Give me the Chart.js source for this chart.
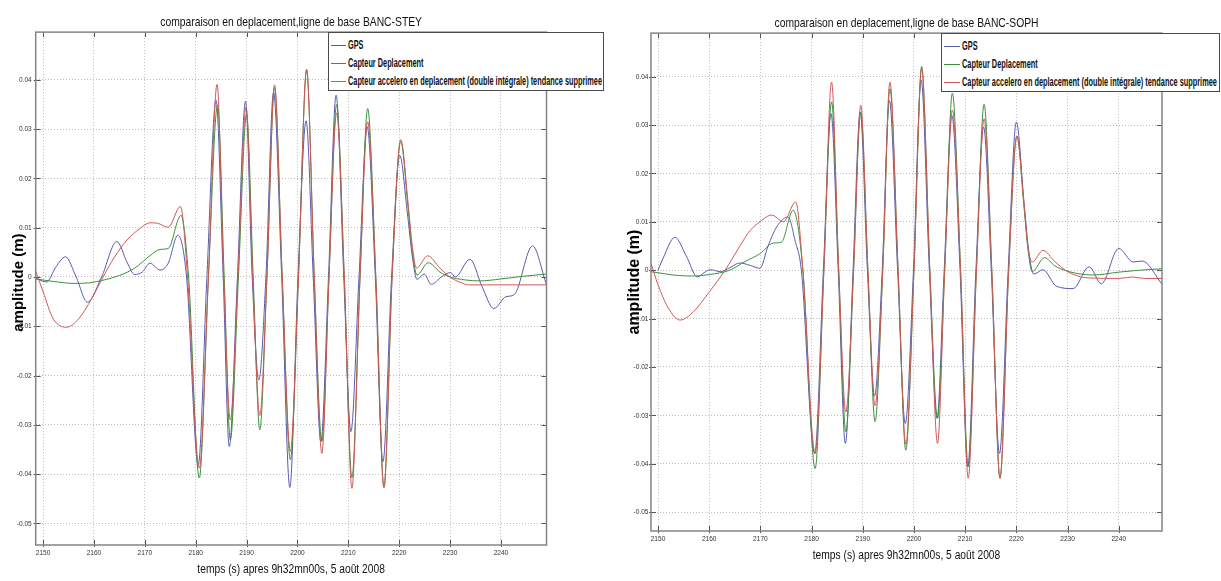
<!DOCTYPE html>
<html><head><meta charset="utf-8">
<script src="https://cdn.jsdelivr.net/npm/chart.js@4.4.0/dist/chart.umd.min.js"></script>
<style>
html,body{margin:0;padding:0;background:#fff;}
body{width:1221px;height:581px;position:relative;overflow:hidden;}
.pane{position:absolute;top:0;height:581px;}
.legend{position:absolute;background:#fff;border:1px solid #4a4a4a;box-sizing:border-box;font-family:'Liberation Sans',Arial,sans-serif;font-weight:bold;font-size:12.5px;color:#111;z-index:5;}
.row{position:absolute;left:0;right:0;height:18px;white-space:nowrap;}
.row .ln{position:absolute;top:9px;height:1px;}
.row .tx{position:absolute;top:0;line-height:18px;transform-origin:left center;display:inline-block;}
</style></head>
<body>
<div class="pane" style="left:0;width:610px"><canvas id="c1" width="610" height="581"></canvas></div>
<div class="pane" style="left:610px;width:611px"><canvas id="c2" width="611" height="581"></canvas></div>
<div class="legend" id="lg1" style="left:328px;top:32px;width:276px;height:59px"></div>
<div class="legend" id="lg2" style="left:941px;top:33px;width:279px;height:59px"></div>
<script>
// ---- labels / ticks ----
const seriesNames = ['GPS', 'Capteur Deplacement', 'Capteur accelero en deplacement (double intégrale) tendance supprimee'];
const seriesColors = ['#5a5aae', '#3c8f3c', '#d05858'];
const titleStey = 'comparaison en deplacement,ligne de base BANC-STEY';
const titleSoph = 'comparaison en deplacement,ligne de base BANC-SOPH';
const xTitle = 'temps (s) apres 9h32mn00s, 5 août 2008';
const yTitle = 'amplitude (m)';
const xTicks = [2150, 2160, 2170, 2180, 2190, 2200, 2210, 2220, 2230, 2240];
const yTicks = [-0.05, -0.04, -0.03, -0.02, -0.01, 0, 0.01, 0.02, 0.03, 0.04];

// ---- BANC-STEY ----
const steyGpsT = [2148.55,2150.7,2152.5,2154.4,2156.5,2158.7,2161.5,2164.5,2166.5,2168,2169.5,2171,2173,2174.6,2176.5,2178.2,2180.5,2182.2,2184.0,2185.4,2186.6,2188.2,2189.8,2191.1,2192.4,2193.8,2195.3,2196.9,2198.5,2200.1,2201.7,2203.1,2204.6,2206.1,2207.6,2209.1,2210.5,2212.1,2213.7,2215.3,2216.8,2218.5,2220.1,2221.6,2222.6,2223.5,2224.9,2226.3,2228.3,2230.1,2231,2233.9,2236.3,2238.6,2241.0,2242.6,2246.2,2248.95];
const steyGpsV = [-0.0003,-0.001,0.002,0.0041,0.0,-0.0051,0.0,0.0072,0.003,0.0005,0.001,0.0028,0.0014,0.0028,0.0085,0.0,-0.0381,0.0,0.0359,0.0,-0.0344,0.0,0.0357,0.0,-0.0209,0.0,0.0375,0.0,-0.0427,0.0,0.0317,0.0,-0.0334,0.0,0.0369,0.0,-0.0314,0.0,0.0305,0.0,-0.0375,0.0,0.0247,0.013,0.004,-0.0005,0.0006,-0.0015,0.0,0.0009,0.0,0.0036,-0.002,-0.0064,-0.004,-0.0036,0.0063,-0.0016];
const steyDepT = [2148.55,2152,2156,2159,2162,2165,2168,2171,2173,2174.6,2177.1,2178.6,2180.7,2182.5,2184.3,2185.6,2186.8,2188.4,2190.0,2191.3,2192.6,2194.0,2195.5,2197.0,2198.6,2200.2,2201.8,2203.3,2204.8,2206.2,2207.7,2209.2,2210.7,2212.3,2213.8,2215.4,2217.0,2218.6,2220.3,2221.7,2222.6,2223.5,2225.7,2228,2230,2233,2235.8,2240,2244,2248.95];
const steyDepV = [-0.0004,-0.0009,-0.0013,-0.0012,-0.0006,0.0003,0.0018,0.0043,0.0056,0.0058,0.0125,0.0,-0.0408,0.0,0.0349,0.0,-0.0331,0.0,0.033,0.0,-0.031,0.0,0.0385,0.0,-0.0371,0.0,0.0421,0.0,-0.0334,0.0,0.035,0.0,-0.0408,0.0,0.0342,0.0,-0.0427,0.0,0.0275,0.0145,0.005,0.0004,0.0029,0.001,0.0,-0.0006,-0.0008,-0.0004,0.0001,0.0006];
const steyAccT = [2148.55,2150,2152,2154.6,2157,2159.5,2161.8,2164,2166.5,2169,2171,2172.5,2174.6,2177,2178.4,2180.7,2182.5,2184.2,2185.5,2186.8,2188.3,2189.9,2191.2,2192.6,2194.0,2195.5,2197.0,2198.6,2200.2,2201.8,2203.3,2204.8,2206.2,2207.7,2209.2,2210.7,2212.3,2213.8,2215.4,2217.0,2218.6,2220.3,2221.7,2222.6,2223.4,2225.6,2228,2230.1,2232,2233.7,2240,2248.95];
const steyAccV = [0.0012,-0.003,-0.0085,-0.0102,-0.0085,-0.0045,0.0,0.004,0.0075,0.0098,0.011,0.0109,0.0101,0.0143,0.0,-0.0388,0.0,0.0391,0.0,-0.029,0.0,0.0345,0.0,-0.0281,0.0,0.039,0.0,-0.0354,0.0,0.0421,0.0,-0.0358,0.0,0.0333,0.0,-0.0429,0.0,0.0315,0.0,-0.0427,0.0,0.0279,0.0155,0.006,0.0018,0.0043,0.0018,-0.0001,-0.0011,-0.0016,-0.0016,-0.0016];

// ---- BANC-SOPH ----
const sophGpsT = [2150.0,2151,2153.3,2155.5,2157.7,2159,2160.2,2162.2,2164,2166,2168,2169.9,2171.5,2173.2,2175.4,2176.8,2178.0,2180.6,2182.3,2183.8,2185.2,2186.6,2188.1,2189.5,2190.9,2192.3,2193.8,2195.2,2196.8,2198.3,2199.9,2201.4,2203.0,2204.5,2205.9,2207.4,2209.0,2210.5,2212.1,2213.6,2215.1,2216.7,2218.4,2220.0,2221.5,2222.3,2223.4,2225.2,2227.8,2231.1,2234.2,2236.6,2240.0,2242.8,2244.6,2248.45];
const sophGpsV = [0.0,0.0025,0.0068,0.003,-0.0014,-0.0005,0.0001,-0.0003,0.0005,0.0015,0.001,0.0004,0.005,0.009,0.011,0.006,0.0,-0.0379,0.0,0.0324,0.0,-0.0358,0.0,0.0327,0.0,-0.026,0.0,0.0351,0.0,-0.0317,0.0,0.0393,0.0,-0.0306,0.0,0.032,0.0,-0.0406,0.0,0.0296,0.0,-0.0379,0.0,0.0306,0.014,0.005,-0.0008,0.0001,-0.0033,-0.0038,0.0007,-0.0028,0.0045,0.0017,0.0019,-0.0029];
const sophDepT = [2148.63,2151,2154,2157,2160,2164,2167,2169.9,2172.5,2174.1,2176.4,2178.3,2180.7,2182.4,2183.9,2185.3,2186.7,2188.2,2189.6,2191.0,2192.4,2193.9,2195.3,2196.9,2198.4,2200.0,2201.5,2203.1,2204.6,2206.0,2207.5,2209.1,2210.6,2212.2,2213.7,2215.2,2216.8,2218.5,2220.1,2221.5,2222.3,2223.1,2225.5,2227.5,2229.7,2232,2234.9,2240,2244,2248.45];
const sophDepV = [-0.0003,-0.0007,-0.0011,-0.0012,-0.0009,0.0,0.0018,0.0034,0.0056,0.0058,0.0124,0.0,-0.041,0.0,0.0348,0.0,-0.0334,0.0,0.0327,0.0,-0.0313,0.0,0.0375,0.0,-0.0372,0.0,0.0421,0.0,-0.0306,0.0,0.0366,0.0,-0.0406,0.0,0.0343,0.0,-0.043,0.0,0.0277,0.013,0.004,-0.0003,0.0026,0.0009,-0.0001,-0.0007,-0.001,-0.0004,0.0,0.0003];
const sophAccT = [2148.63,2150,2152,2154.3,2157,2160,2163.1,2166,2168,2169.9,2172.2,2174.5,2176.9,2178.3,2180.7,2182.4,2183.9,2185.3,2186.7,2188.2,2189.6,2191.0,2192.4,2193.9,2195.3,2196.9,2198.4,2200.0,2201.5,2203.1,2204.6,2206.0,2207.5,2209.1,2210.6,2212.2,2213.7,2215.2,2216.8,2218.5,2220.1,2221.5,2222.3,2223.1,2225.2,2227.5,2229.7,2232,2234.2,2240,2242.8,2245,2248.45];
const sophAccV = [0.0014,-0.003,-0.0078,-0.0103,-0.0085,-0.0045,0.0,0.005,0.0082,0.01,0.0114,0.01,0.0141,0.0,-0.0379,0.0,0.0389,0.0,-0.0293,0.0,0.0341,0.0,-0.028,0.0,0.0389,0.0,-0.036,0.0,0.0417,0.0,-0.0358,0.0,0.0331,0.0,-0.043,0.0,0.0313,0.0,-0.043,0.0,0.0277,0.0135,0.0045,0.0017,0.0041,0.0018,-0.0001,-0.0012,-0.0016,-0.0017,-0.0014,-0.0017,-0.0017];

const SANS = "'Liberation Sans',Arial,sans-serif";
const NARROW_K = 0.82; // horizontal squeeze emulating a narrow face

function toXY(ts, vs) {
  const n = Math.min(ts.length, vs.length);
  const out = [];
  for (let i = 0; i < n; i++) out.push({x: ts[i], y: vs[i]});
  return out;
}

// draw canvas text narrower (Arial Narrow look); y title gets a small shift only
function condenseText(canvas, yShift) {
  const ctx = canvas.getContext('2d');
  const orig = ctx.fillText.bind(ctx);
  ctx.fillText = function (text, x, y, maxW) {
    if (text === yTitle) {
      return orig(text, x + yShift, y);
    }
    ctx.save();
    ctx.translate(x, y);
    ctx.scale(NARROW_K, 1);
    if (maxW === undefined || maxW === null) orig(text, 0, 0);
    else orig(text, 0, 0, maxW / NARROW_K);
    ctx.restore();
  };
}

const framePlugin = {
  id: 'frame',
  afterDatasetsDraw(chart) {
    const {ctx, chartArea: a, scales} = chart;
    const x = scales.x, y = scales.y;
    ctx.save();
    ctx.strokeStyle = '#555';
    ctx.lineWidth = 1;
    ctx.beginPath();
    y.ticks.forEach(t => {
      const p = Math.round(y.getPixelForValue(t.value)) + 0.5;
      ctx.moveTo(a.left - 2, p); ctx.lineTo(a.left + 5, p);
      ctx.moveTo(a.right, p); ctx.lineTo(a.right - 5, p);
    });
    x.ticks.forEach(t => {
      const p = Math.round(x.getPixelForValue(t.value)) + 0.5;
      ctx.moveTo(p, a.bottom + 2); ctx.lineTo(p, a.bottom - 5);
      ctx.moveTo(p, a.top); ctx.lineTo(p, a.top + 5);
    });
    ctx.stroke();
    ctx.strokeStyle = '#858585';
    ctx.lineWidth = 1.5;
    ctx.strokeRect(a.left, a.top, a.right - a.left, a.bottom - a.top);
    ctx.restore();
  }
};

function makeChart(id, title, series, g) {
  const canvas = document.getElementById(id);
  condenseText(canvas, g.yShift);
  const datasets = series.map((s, i) => ({
    label: seriesNames[i],
    data: toXY(s[0], s[1]),
    borderColor: seriesColors[i],
    backgroundColor: seriesColors[i],
    borderWidth: 1,
    pointRadius: 0,
    fill: false,
    cubicInterpolationMode: 'monotone',
    order: 3 - i
  }));
  return new Chart(canvas, {
    type: 'line',
    data: {datasets},
    plugins: [framePlugin],
    options: {
      responsive: false,
      animation: false,
      devicePixelRatio: 1,
      layout: {padding: {left: 0, right: g.padR, top: 0, bottom: 0}},
      plugins: {
        legend: {display: false},
        tooltip: {enabled: false},
        title: {display: true, text: title, fullSize: false, color: '#111',
          font: {family: SANS, size: 12.6, weight: 'normal', lineHeight: 1.2},
          padding: {top: g.titleTop, bottom: 2.5}}
      },
      scales: {
        x: {
          type: 'linear', min: g.xMin, max: g.xMax,
          afterBuildTicks: s => { s.ticks = xTicks.map(v => ({value: v})); },
          afterFit: s => { s.height = g.xH; },
          ticks: {font: {family: SANS, size: 8}, color: '#333', padding: g.xTickPad, maxRotation: 0, autoSkip: false,
            callback: v => String(v)},
          grid: {color: '#bdbdbd', lineWidth: 1, drawTicks: false},
          border: {display: false, dash: [1, 2]},
          title: {display: true, text: xTitle, color: '#111', font: {family: SANS, size: 12.5, lineHeight: 1.2},
            padding: {top: 0, bottom: g.xTitleBot}}
        },
        y: {
          type: 'linear', min: g.yMin, max: g.yMax,
          afterBuildTicks: s => { s.ticks = yTicks.map(v => ({value: v})); },
          afterFit: s => { s.width = g.yW; },
          ticks: {font: {family: SANS, size: 8}, color: '#333', padding: g.yTickPad,
            callback: v => (Math.abs(v) < 1e-9 ? '0' : Number(v).toFixed(2))},
          grid: {color: '#bdbdbd', lineWidth: 1, drawTicks: false},
          border: {display: false, dash: [1, 2]},
          title: {display: true, text: yTitle, color: '#000',
            font: {family: SANS, size: g.yTitleSize, weight: 'bold', lineHeight: 1.2},
            padding: {top: g.yTitlePad, bottom: 0}}
        }
      }
    }
  });
}

makeChart('c1', titleStey,
  [[steyGpsT, steyGpsV], [steyDepT, steyDepV], [steyAccT, steyAccV]],
  {padR: 63.5, titleTop: 14.5, xMin: 2148.55, xMax: 2248.95, yMin: -0.0544, yMax: 0.0497,
   xH: 36, yW: 35.7, xTickPad: 3, yTickPad: 4, xTitleBot: 3.5, yTitleSize: 15, yTitlePad: 10, yShift: 6});

makeChart('c2', titleSoph,
  [[sophGpsT, sophGpsV], [sophDepT, sophDepV], [sophAccT, sophAccV]],
  {padR: 59, titleTop: 15.5, xMin: 2148.63, xMax: 2248.45, yMin: -0.0539, yMax: 0.049,
   xH: 50, yW: 41, xTickPad: 2.5, yTickPad: 2.5, xTitleBot: 17.5, yTitleSize: 16, yTitlePad: 15.4, yShift: 0});

function buildLegend(id, lineL, lineR, textL, textW) {
  const el = document.getElementById(id);
  const spans = [];
  seriesNames.forEach((n, i) => {
    const r = document.createElement('div');
    r.className = 'row';
    r.style.top = (3 + i * 18) + 'px';
    const ln = document.createElement('div');
    ln.className = 'ln';
    ln.style.left = lineL + 'px';
    ln.style.width = (lineR - lineL) + 'px';
    ln.style.backgroundColor = seriesColors[i];
    const tx = document.createElement('span');
    tx.className = 'tx';
    tx.style.left = textL + 'px';
    tx.textContent = n;
    r.appendChild(ln); r.appendChild(tx);
    el.appendChild(r);
    spans.push(tx);
  });
  const w = Math.max(...spans.map(s => s.getBoundingClientRect().width));
  const k = textW / w;
  spans.forEach(s => { s.style.transform = 'scaleX(' + k.toFixed(3) + ')'; });
}
buildLegend('lg1', 2, 17, 18.7, 254);
buildLegend('lg2', 2, 18, 20, 255);
</script>
</body></html>
